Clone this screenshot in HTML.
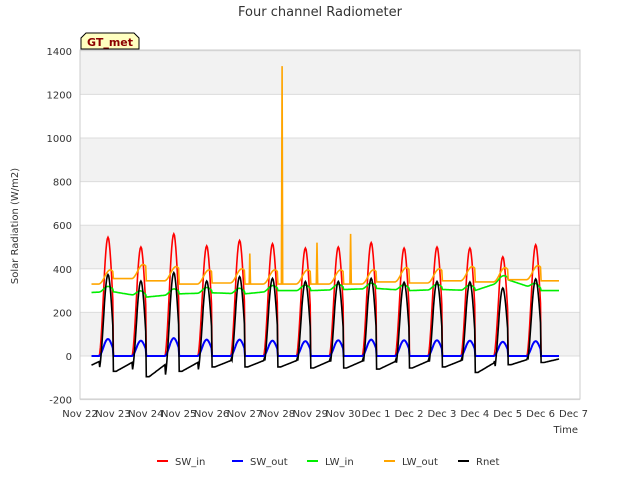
<!DOCTYPE html>
<html><head><meta charset="utf-8"><style>
body{margin:0;background:#fff;font-family:"Liberation Sans","DejaVu Sans",sans-serif;}
svg text{font-family:"DejaVu Sans","Liberation Sans",sans-serif;}
</style></head><body>
<svg id="c" width="640" height="480" viewBox="0 0 640 480">
<text x="320" y="16" text-anchor="middle" font-size="13" fill="#333">Four channel Radiometer</text>
<g id="bands"></g><g id="grid"></g><g id="series"></g><g id="axes"></g>
<text transform="translate(18,226) rotate(-90)" text-anchor="middle" font-size="10" fill="#333">Solar Radiation (W/m2)</text>
<text x="578" y="433" text-anchor="end" font-size="10" fill="#333">Time</text>
<g>
<path d="M81,49 L81,38 L86,33 L134,33 L139,38 L139,49 Z" fill="#ffffc0" stroke="#000" stroke-width="1"/>
<text x="110" y="46" text-anchor="middle" font-size="11" font-weight="bold" fill="#8b0000">GT_met</text></g>
<g id="legend"></g>
</svg>
<script>
const days=['Nov 22','Nov 23','Nov 24','Nov 25','Nov 26','Nov 27','Nov 28','Nov 29','Nov 30','Dec 1','Dec 2','Dec 3','Dec 4','Dec 5','Dec 6','Dec 7'];
const yTicks=[-200,0,200,400,600,800,1000,1200,1400];
const swInPeak=[545,500,560,505,530,515,495,500,520,495,500,495,455,510];
const swOutPeak=[78,70,82,75,75,70,68,72,75,72,72,70,65,68];
const rnetNight=[-60,-70,-95,-70,-50,-50,-50,-55,-55,-60,-55,-50,-75,-40,-30];
const lwInBase=[290,295,270,285,290,285,300,300,305,310,300,305,300,350,300];
const lwOutBase=[330,355,345,330,335,330,330,330,330,340,335,345,340,350,345];
const spikeDay=[5.17,6.14,7.2,8.22];
const spikeVal=[470,1330,520,560];
const names=['SW_in','SW_out','LW_in','LW_out','Rnet'];
const colors=['#ff0000','#0000ff','#00ee00','#ffa500','#000000'];
const X=d=>80+d*32.9, Y=v=>356-v*0.218;
const NS='http://www.w3.org/2000/svg';
function mk(t,a,p){const e=document.createElementNS(NS,t);for(const k in a)e.setAttribute(k,a[k]);p.appendChild(e);return e;}
const bands=document.getElementById('bands'),grid=document.getElementById('grid'),axes=document.getElementById('axes'),ser=document.getElementById('series'),leg=document.getElementById('legend');
mk('rect',{x:80,y:50,width:500,height:349,fill:'#fff'},bands);
for(let i=0;i<yTicks.length-1;i++){if(i%2==1){const r=mk('rect',{x:80,y:Y(yTicks[i+1]),width:500,height:Y(yTicks[i])-Y(yTicks[i+1]),fill:'#f2f2f2'},bands);}}
yTicks.forEach(v=>{mk('line',{x1:80,x2:580,y1:Y(v),y2:Y(v),stroke:'#dcdcdc'},grid);
const t=mk('text',{x:72,y:Y(v)+4,'text-anchor':'end','font-size':10,fill:'#333'},axes);t.textContent=v;

});
days.forEach((d,i)=>{const t=mk('text',{x:X(i),y:417,'text-anchor':'middle','font-size':10,fill:'#333'},axes);t.textContent=d;

});
mk('rect',{x:80,y:50,width:500,height:349,fill:'none',stroke:'#ccc'},axes);
const t0=0.35,t1=14.55,N=48;
const pts=[[],[],[],[],[]];
for(let k=0;k<=Math.round((t1-t0)*N);k++){const d=t0+k/N;
const di=Math.floor(d);const u=(d-di-0.85)/0.27;
let s=Math.abs(u)<1?Math.pow(Math.cos(u*Math.PI/2),1.8):0;
const pi=Math.min(di,swInPeak.length-1);
const swi=s*swInPeak[pi], swo=s*swOutPeak[pi];
const f=d-Math.floor(d);
const a=lwInBase[Math.min(di,lwInBase.length-1)],b=lwInBase[Math.min(di+1,lwInBase.length-1)];
const lwi=a+(b-a)*f+25*s;
const v2=(d-di-0.92)/0.35;
const b2=Math.abs(v2)<1?Math.pow(Math.cos(v2*Math.PI/2),2):0;
let lwo=lwOutBase[Math.min(di,lwOutBase.length-1)]+65*b2;
spikeDay.forEach((sd,j)=>{if(Math.abs(d-sd)<0.6/N)lwo=spikeVal[j];});
// night Rnet: lowest just after sunset, recovering toward sunrise
let ph=f>=0.85?(f-1.12):(f-0.12+0.0);
let nightIdx=f>=0.85?Math.min(di+1,rnetNight.length-1):Math.min(di,rnetNight.length-1);
let rec=Math.max(0,Math.min(1,(f<0.85? f+0 : f-1)+0.0));
let nightVal=rnetNight[nightIdx]*(f<0.6?(1-0.6*Math.max(0,f-0.1)/0.5):1);
const rn=nightVal*(1-s)+s*(swInPeak[pi]-swOutPeak[pi])*0.8;
[swi,swo,lwi,lwo,rn].forEach((v,j)=>pts[j].push([X(d),Y(v)]));}
[0,2,3,1,4].forEach(j=>{const p=mk('path',{d:'M'+pts[j].map(q=>q[0].toFixed(1)+','+q[1].toFixed(1)).join('L'),fill:'none',stroke:colors[j],'stroke-width':j==1?2:1.6},ser);

});
const lx=[157,232,307,384,458];
names.forEach((n,i)=>{const g=mk('g',{},leg);


mk('line',{x1:lx[i],x2:lx[i]+11,y1:461,y2:461,stroke:colors[i],'stroke-width':2},g);
const t=mk('text',{x:lx[i]+18,y:465,'font-size':10,fill:'#333'},g);t.textContent=n;});
</script>
</body></html>
